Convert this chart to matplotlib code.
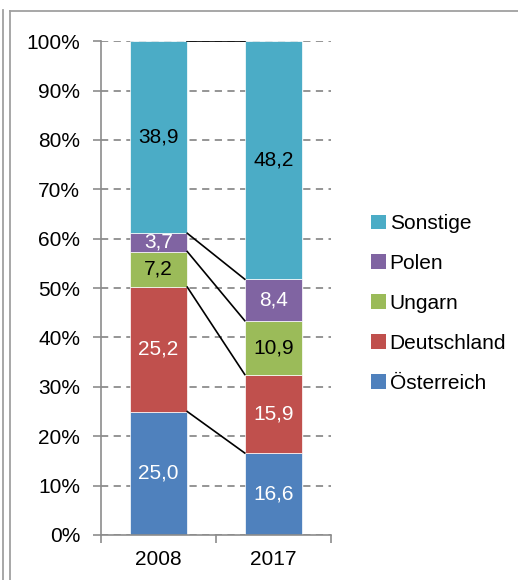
import matplotlib
matplotlib.use("Agg")
import matplotlib.pyplot as plt
from matplotlib.lines import Line2D
from matplotlib.patches import Patch
import numpy as np

plt.rcParams["font.family"] = ["Liberation Sans", "DejaVu Sans"]

years = ["2008", "2017"]
series = ["Österreich", "Deutschland", "Ungarn", "Polen", "Sonstige"]
values = {
    "Österreich": [25.0, 16.6],
    "Deutschland": [25.2, 15.9],
    "Ungarn": [7.2, 10.9],
    "Polen": [3.7, 8.4],
    "Sonstige": [38.9, 48.2],
}
colors = {
    "Österreich": "#4F81BD",
    "Deutschland": "#C0504D",
    "Ungarn": "#9BBB59",
    "Polen": "#8064A2",
    "Sonstige": "#4BACC6",
}
label_colors = {
    "Österreich": "white",
    "Deutschland": "white",
    "Ungarn": "black",
    "Polen": "white",
    "Sonstige": "black",
}

FS = 15

fig = plt.figure(figsize=(5.18, 5.8), dpi=100)
ax = fig.add_axes([0.195, 0.0776, 0.444, 0.8514])

x = np.arange(len(years))
width = 0.5
bottom = np.zeros(len(years))
for name in series:
    vals = np.array(values[name])
    ax.bar(x, vals, width, bottom=bottom, color=colors[name],
           edgecolor="white", linewidth=0.5, zorder=2)
    for xi, v, b in zip(x, vals, bottom):
        ax.text(xi, b + v / 2, f"{v:.1f}".replace(".", ","),
                ha="center", va="center", fontsize=FS,
                color=label_colors[name], zorder=4)
    bottom = bottom + vals
    # series line between bar tops
    ax.plot([x[0] + width / 2, x[1] - width / 2], [bottom[0], bottom[1]],
            color="black", linewidth=1.2, zorder=3)

ax.set_xlim(-0.5, 1.5)
ax.set_ylim(0, 100)
ax.set_yticks(np.arange(0, 101, 10))
ax.set_yticklabels([f"{t}%" for t in range(0, 101, 10)])
ax.yaxis.grid(True, color="#8C8C8C", linestyle=(0, (4, 3)), linewidth=1.3, zorder=0)
ax.set_axisbelow(True)

ax.set_xticks(x)
ax.set_xticklabels(years)
ax.set_xticks([-0.5, 0.5, 1.5], minor=True)
ax.tick_params(axis="x", which="major", length=0, pad=11, labelsize=FS)
ax.tick_params(axis="x", which="minor", length=6, color="#8C8C8C", width=1.2)
ax.tick_params(axis="y", length=6, color="#8C8C8C", width=1.2, labelsize=FS, pad=9)

for s in ["top", "right"]:
    ax.spines[s].set_visible(False)
for s in ["left", "bottom"]:
    ax.spines[s].set_color("#8C8C8C")
    ax.spines[s].set_linewidth(1.2)

handles = [Patch(facecolor=colors[n], edgecolor="none") for n in series[::-1]]
fig.legend(handles, series[::-1], loc="upper left",
           bbox_to_anchor=(0.700, 0.645), frameon=False, fontsize=FS,
           handlelength=0.7, handleheight=0.7, handletextpad=0.2,
           labelspacing=1.0, borderaxespad=0)

# outer frame lines (top and left only, second line at far left)
frame = dict(transform=fig.transFigure, color="#A0A0A0", linewidth=1.3)
fig.lines.append(Line2D([10 / 518, 1.0], [1 - 11 / 580, 1 - 11 / 580], **frame))
fig.lines.append(Line2D([10 / 518, 10 / 518], [0, 1 - 11 / 580], **frame))
fig.lines.append(Line2D([3 / 518, 3 / 518], [0, 1 - 10 / 580], **frame))

fig.savefig("out.png", dpi=100)
